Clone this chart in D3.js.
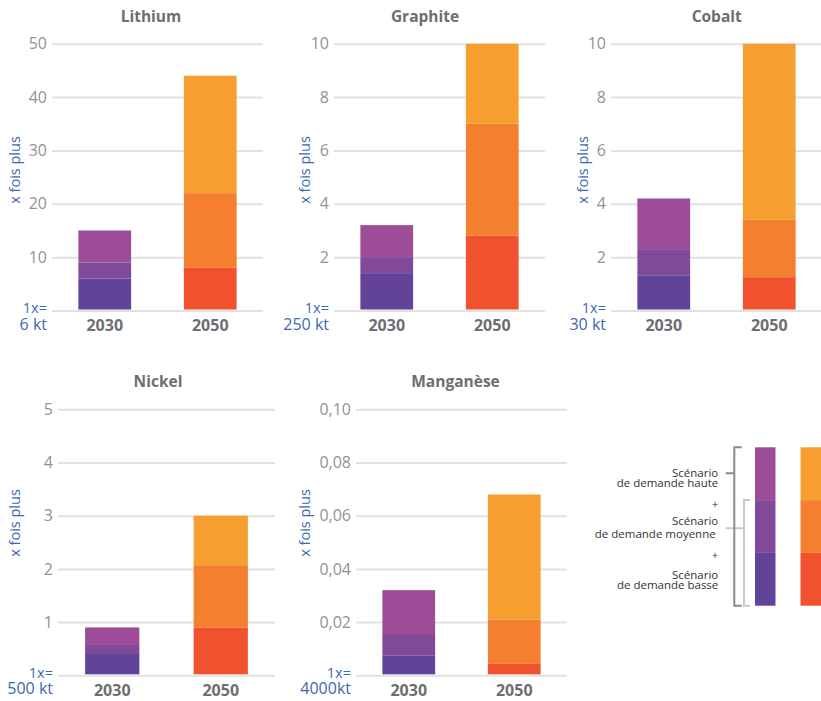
<!DOCTYPE html>
<html lang="fr">
<head>
<meta charset="utf-8">
<script src="https://cdn.jsdelivr.net/npm/d3@7"></script>
<style>
  html, body { margin: 0; padding: 0; background: #fff; }
  svg { display: block; font-family: "Open Sans", "DejaVu Sans", sans-serif; }
</style>
</head>
<body>
<svg id="chart" width="821" height="701"></svg>
<script>
// Minerals and years
const minerals = ["Lithium", "Graphite", "Cobalt", "Nickel", "Manganèse"];
const years = ["2030", "2050"];

// Demand multiples (x fois plus) per scenario, cumulative top of each segment
const basse2030   = [6,   1.4, 1.3,  0.4,  0.0075];
const moyenne2030 = [9,   2.0, 2.3,  0.57, 0.0155];
const haute2030   = [15,  3.2, 4.2,  0.9,  0.032];
const basse2050   = [8,   2.8, 1.25, 0.9,  0.0045];
const moyenne2050 = [22,  7.0, 3.4,  2.07, 0.021];
const haute2050   = [44, 10.0, 10.0, 3.0,  0.068];

// Axis maxima and the reference quantity that equals 1x
const axisMax = [50, 10, 10, 5, 0.10];
const unitLabels = ["6 kt", "250 kt", "30 kt", "500 kt", "4000kt"];

// Scenario legend labels (two lines each)
const scenarioLabels = [
  ["Scénario", "de demande haute"],
  ["Scénario", "de demande moyenne"],
  ["Scénario", "de demande basse"]
];

// Palette: low, medium, high scenarios for each year
const colors2030 = ["#62439a", "#804a99", "#9d4c98"];
const colors2050 = ["#ef522d", "#f37f2f", "#f69f30"];

// Panel layout
const layout = [
  { x0: 52,  x1: 263, top: 43.7,  bottom: 310.5, titleX: 151,   labelX: 15,  labelY: 170 },
  { x0: 334, x1: 545, top: 43.7,  bottom: 310.5, titleX: 425,   labelX: 305, labelY: 170 },
  { x0: 611, x1: 822, top: 43.7,  bottom: 310.5, titleX: 716.7, labelX: 583, labelY: 170 },
  { x0: 58,  x1: 275, top: 409.3, bottom: 675.3, titleX: 158,   labelX: 15,  labelY: 523 },
  { x0: 356, x1: 567, top: 409.3, bottom: 675.3, titleX: 455.5, labelX: 305, labelY: 523 }
];

const frLocale = d3.formatLocale({ decimal: ",", thousands: " ", grouping: [3], currency: ["", " €"] });
const fmtInt = frLocale.format("d");
const fmtDec = frLocale.format(".2f");

const svg = d3.select("#chart");
const textGrey = "#6d6e71";
const tickGrey = "#929292";
const blue = "#3d69b2";
const gridColor = "#e1e1e1";

minerals.forEach((name, i) => {
  const L = layout[i];
  const g = svg.append("g");

  const x = d3.scaleBand().domain(years).range([L.x0, L.x1]).paddingInner(0.5).paddingOuter(0.25);
  const y = d3.scaleLinear().domain([0, axisMax[i]]).range([L.bottom, L.top]);
  const fmt = axisMax[i] < 1 ? fmtDec : fmtInt;

  // grid + ticks
  const axis = d3.axisLeft(y).ticks(5).tickSize(-(L.x1 - L.x0)).tickPadding(5)
    .tickFormat(d => d === 0 ? "" : fmt(d));
  const ax = g.append("g").attr("transform", `translate(${L.x0},0)`).call(axis);
  ax.select(".domain").remove();
  ax.selectAll(".tick line").attr("stroke", gridColor).attr("stroke-width", 2);
  ax.selectAll(".tick text").attr("fill", tickGrey).attr("font-size", 16).attr("font-family", "\"Open Sans\", sans-serif");

  // stacked bars
  const stacks = [
    { year: "2030", tops: [basse2030[i], moyenne2030[i], haute2030[i]], colors: colors2030 },
    { year: "2050", tops: [basse2050[i], moyenne2050[i], haute2050[i]], colors: colors2050 }
  ];
  stacks.forEach(s => {
    const segs = s.tops.map((t, k) => ({ lo: k === 0 ? 0 : s.tops[k - 1], hi: t, color: s.colors[k] }));
    g.append("g").selectAll("rect").data(segs).join("rect")
      .attr("x", x(s.year))
      .attr("width", x.bandwidth())
      .attr("y", d => y(d.hi))
      .attr("height", d => Math.max(0, y(d.lo) - y(d.hi) - (d.lo === 0 ? 1 : 0)))
      .attr("fill", d => d.color);
  });

  // year labels
  g.append("g").selectAll("text").data(years).join("text")
    .attr("x", d => x(d) + x.bandwidth() / 2)
    .attr("y", L.bottom + 20.5)
    .attr("text-anchor", "middle")
    .attr("font-size", 16).attr("font-weight", 700).attr("fill", textGrey)
    .text(d => d);

  // title
  g.append("text")
    .attr("x", L.titleX).attr("y", L.top - 22)
    .attr("text-anchor", "middle")
    .attr("font-size", 15.5).attr("font-weight", 700).attr("fill", textGrey)
    .text(name);

  // 1x reference (two lines in one label)
  const ref = g.append("text").attr("text-anchor", "end").attr("fill", blue);
  ref.append("tspan").attr("x", L.x0 - 5).attr("y", L.bottom + 2.5)
    .attr("font-size", 14.5).text("1x=");
  ref.append("tspan").attr("x", L.x0 - 5).attr("y", L.bottom + 19)
    .attr("font-size", 16).text(unitLabels[i]);

  // vertical axis label
  g.append("text")
    .attr("transform", `translate(${L.labelX},${L.labelY}) rotate(-90)`)
    .attr("text-anchor", "middle").attr("dy", "0.35em")
    .attr("font-size", 14.5).attr("fill", blue)
    .text("x fois plus");
});

// Legend
const leg = svg.append("g");
const ly = d3.scaleLinear().domain([0, 3]).range([605.7, 447.3]);
const lx = d3.scaleBand().domain(years).range([755, 821]).paddingInner(0.55);
[colors2030, colors2050].forEach((cols, j) => {
  leg.append("g").selectAll("rect").data(cols).join("rect")
    .attr("x", lx(years[j])).attr("width", lx.bandwidth())
    .attr("y", (d, k) => ly(k + 1)).attr("height", (d, k) => ly(k) - ly(k + 1))
    .attr("fill", d => d);
});

// brackets
const darkB = "#8a8a8a", lightB = "#c9c9c9";
leg.append("path")
  .attr("d", `M750,${ly(2)} H744 V${ly(0)} H750 M725.7,528.3 H744`)
  .attr("fill", "none").attr("stroke", lightB).attr("stroke-width", 2);
leg.append("path")
  .attr("d", `M741.7,${ly(3)} H734.3 V${ly(0)} H741.7 M725.7,473.3 H734.3`)
  .attr("fill", "none").attr("stroke", darkB).attr("stroke-width", 2);

// scenario labels
const labelPos = [
  { x1: 718.3, y1: 477.3, x2: 718.3, y2: 487.3 },
  { x1: 718.3, y1: 525,   x2: 715.7, y2: 538.3 },
  { x1: 718.3, y1: 579.3, x2: 718.3, y2: 589.3 }
];
scenarioLabels.forEach((lines, k) => {
  const p = labelPos[k];
  const t = leg.append("text").attr("text-anchor", "end").attr("font-size", 11.5).attr("fill", "#333");
  t.append("tspan").attr("x", p.x1).attr("y", p.y1).text(lines[0]);
  t.append("tspan").attr("x", p.x2).attr("y", p.y2).text(lines[1]);
});
leg.append("g").selectAll("text").data([508, 559]).join("text")
  .attr("x", 718.3).attr("y", d => d)
  .attr("text-anchor", "end").attr("font-size", 11.5).attr("fill", "#333")
  .text("+");
</script>
</body>
</html>
